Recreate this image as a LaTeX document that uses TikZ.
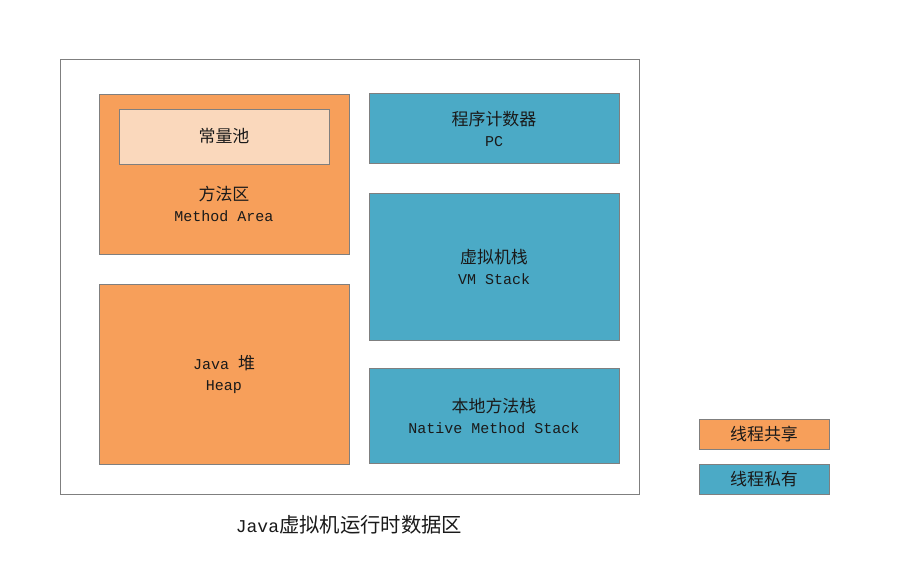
\documentclass[tikz,border=0pt]{standalone}
\usepackage{fontspec}
\setmonofont{Liberation Mono}
\newfontfamily\cjkfont{Noto Sans CJK SC}[Scale=1.13]
\newcommand\zhtxt[1]{{\cjkfont #1}}
\definecolor{shared}{HTML}{F79F5A}
\definecolor{sharedlight}{HTML}{FAD8BC}
\definecolor{private}{HTML}{4BAAC6}
\definecolor{edge}{HTML}{7F7F7F}
\definecolor{ink}{HTML}{1A1A1A}
\begin{document}
\begin{tikzpicture}[x=1pt,y=-1pt,
  box/.style={draw=edge,line width=0.8pt,text=ink,align=center,
    font=\ttfamily\fontsize{15}{21}\selectfont,inner sep=0pt},
  sharedbox/.style={box,fill=shared},
  privatebox/.style={box,fill=private}]
\useasboundingbox (0,0) rectangle (910,587);
\fill[white] (0,0) rectangle (910,587);
% outer frame
\node[draw=edge,line width=0.8pt,minimum width=579pt,minimum height=435pt,inner sep=0pt] (frame) at (349.5,276.5) {};
% method area
\node[sharedbox,minimum width=250pt,minimum height=160pt] (method) at (224,174) {};
\node[text=ink,align=center,font=\ttfamily\fontsize{15}{21}\selectfont,inner sep=0pt] (methodtxt) at (224,204) {\zhtxt{方法区}\\Method Area};
\node[box,fill=sharedlight,minimum width=210pt,minimum height=55pt] (pool) at (224,136.5) {\zhtxt{常量池}};
% heap
\node[sharedbox,minimum width=250pt,minimum height=180pt] (heap) at (224,374) {Java \zhtxt{堆}\\Heap};
% PC
\node[privatebox,minimum width=250pt,minimum height=70pt] (pc) at (494,128.5) {\zhtxt{程序计数器}\\PC};
% VM stack
\node[privatebox,minimum width=250pt,minimum height=147pt] (vm) at (494,267) {\zhtxt{虚拟机栈}\\VM Stack};
% native
\node[privatebox,minimum width=250pt,minimum height=95pt] (native) at (494,416) {\zhtxt{本地方法栈}\\Native Method Stack};
% legend
\node[sharedbox,minimum width=130pt,minimum height=30pt] (legshared) at (764,434) {\zhtxt{线程共享}};
\node[privatebox,minimum width=130pt,minimum height=30pt] (legprivate) at (764,479) {\zhtxt{线程私有}};
% caption
\node[text=ink,font=\ttfamily\fontsize{18}{22}\selectfont,inner sep=0pt] (caption) at (349,525) {Java\zhtxt{虚拟机运行时数据区}};
\end{tikzpicture}
\end{document}
